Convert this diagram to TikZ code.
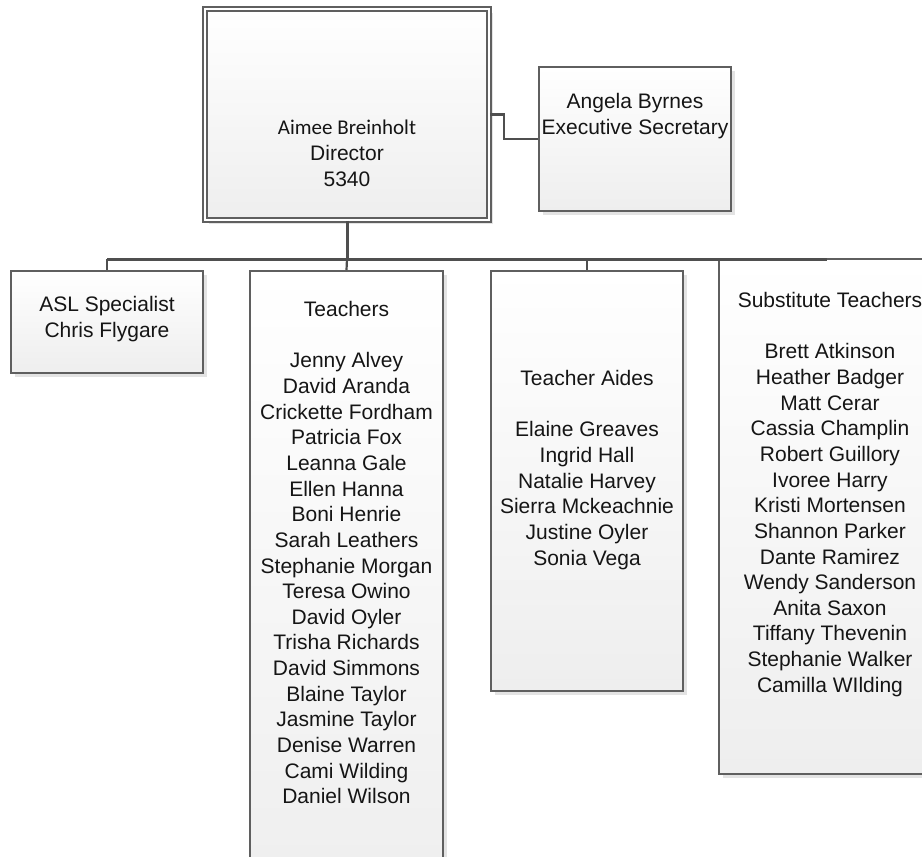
\documentclass[tikz,border=0pt]{standalone}
\usepackage{fontspec}
\setmainfont{Liberation Sans}
\newfontfamily\carlito{Carlito}
\usetikzlibrary{shadows}
\definecolor{bord}{HTML}{5F5F5F}
\definecolor{conncol}{HTML}{4F4F4F}
\definecolor{shad}{HTML}{E3E3E3}
\definecolor{fillb}{HTML}{EEEEEE}
\definecolor{txtcol}{HTML}{151515}
\tikzset{
  box/.style={draw=bord, line width=1.5pt, rectangle, inner sep=0pt,
    top color=white, bottom color=fillb,
    drop shadow={shadow xshift=3pt, shadow yshift=-3pt, fill=shad, opacity=1}},
  bw/.style={minimum width=#1*0.75pt},
  bh/.style={minimum height=#1*0.75pt},
  txt/.style={align=center, inner sep=0pt, anchor=north, text=txtcol,
    font=\fontsize{15.75pt}{19.24pt}\selectfont},
  conn/.style={draw=conncol, line width=1.65pt},
  bus/.style={draw=conncol, line width=2.25pt},
}
\begin{document}
\begin{tikzpicture}[x=0.75pt, y=-0.75pt]
\useasboundingbox (0,0) rectangle (922,857);
\clip (0,0) rectangle (922,857);
\fill[white] (0,0) rectangle (922,857);

% boxes
\node[box, bw=284, bh=211, double=white, double distance=1.9pt, line width=1.2pt] (dir) at (347,114.5) {};
\node[box, bw=192, bh=144] (sec) at (635,139) {};
\node[box, bw=192, bh=102] (asl) at (107,322) {};
\node[box, bw=193, bh=629] (teach) at (346.5,585.5) {};
\node[box, bw=192, bh=420] (aides) at (587,481) {};
\node[box, bw=222, bh=515] (sub) at (830,516.5) {};

% texts
\node[txt] (dirT) at (347,120) {{\carlito Aimee Breinholt}\\Director\\5340};
\node[txt] (secT) at (635,93) {Angela Byrnes\\Executive Secretary};
\node[txt] (aslT) at (107,296.5) {ASL Specialist\\Chris Flygare};
\node[txt] (teachT) at (346.5,301) {Teachers\\[19.24pt]Jenny Alvey\\David Aranda\\Crickette Fordham\\Patricia Fox\\Leanna Gale\\Ellen Hanna\\Boni Henrie\\Sarah Leathers\\Stephanie Morgan\\Teresa Owino\\David Oyler\\Trisha Richards\\David Simmons\\Blaine Taylor\\Jasmine Taylor\\Denise Warren\\Cami Wilding\\Daniel Wilson};
\node[txt] (aidesT) at (587,370) {Teacher Aides\\[19.24pt]Elaine Greaves\\Ingrid Hall\\Natalie Harvey\\Sierra Mckeachnie\\Justine Oyler\\Sonia Vega};
\node[txt] (subT) at (830,292) {Substitute Teachers\\[19.24pt]Brett Atkinson\\Heather Badger\\Matt Cerar\\Cassia Champlin\\Robert Guillory\\Ivoree Harry\\Kristi Mortensen\\Shannon Parker\\Dante Ramirez\\Wendy Sanderson\\Anita Saxon\\Tiffany Thevenin\\Stephanie Walker\\Camilla WIlding};

% connectors
\coordinate (busL) at (107,259);
\coordinate (busR) at (827,259);
\draw[conn] (dir.east) -- ++(14,0) |- (sec.west);
\draw[bus] (busL) -- (busR);
\draw[bus] (dir.south) -- (dir.south |- busL);
\draw[conn] (dir.south |- busL) -- (teach.north);
\draw[conn] (busL) -- (asl.north);
\draw[conn] (aides.north |- busL) -- (aides.north);
\end{tikzpicture}
\end{document}
